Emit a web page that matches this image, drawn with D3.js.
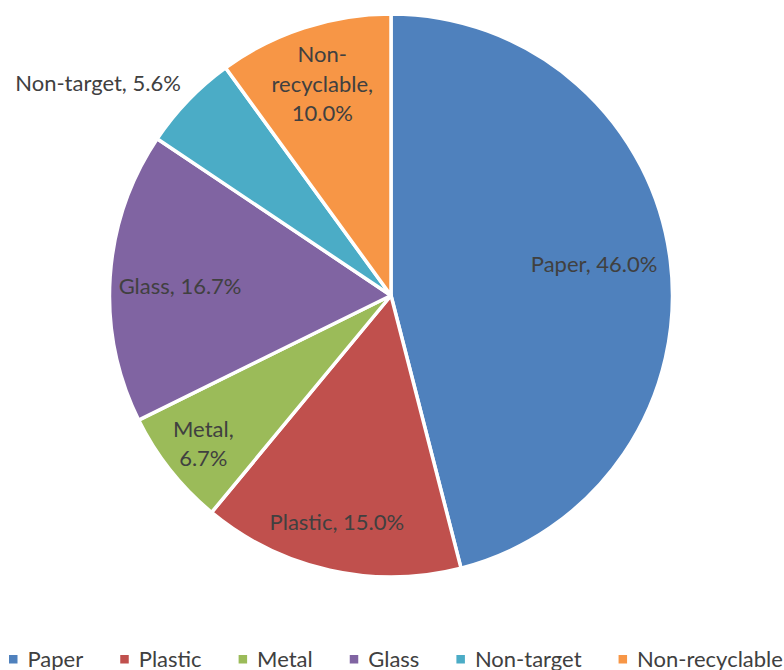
<!DOCTYPE html>
<html>
<head>
<meta charset="utf-8">
<script src="https://cdn.jsdelivr.net/npm/d3@7"></script>
<style>
  html, body { margin: 0; padding: 0; background: #ffffff; }
  svg { display: block; }
  text { font-family: Lato, "Open Sans", sans-serif; fill: #404040; }
</style>
</head>
<body>
<svg id="chart" width="784" height="670"></svg>
<script>
// Waste composition shares (%)
const categories = ["Paper", "Plastic", "Metal", "Glass", "Non-target", "Non-recyclable"];
const values = [46.0, 15.0, 6.7, 16.7, 5.6, 10.0];
const colors = ["#4F81BD", "#C0504D", "#9BBB59", "#8064A2", "#4BACC6", "#F79646"];
// Data label text lines per slice
const labelLines = [
  ["Paper, 46.0%"],
  ["Plastic, 15.0%"],
  ["Metal,", "6.7%"],
  ["Glass, 16.7%"],
  ["Non-target, 5.6%"],
  ["Non-", "recyclable,", "10.0%"]
];

// Label placement: fraction of radius, angular nudge (degrees), inside/outside
const labelLayout = [
  { r: 0.73, da: -1.5, outside: false },
  { r: 0.83, da: 0.8, outside: false },
  { r: 0.85, da: 0, outside: false },
  { r: 0.75, da: -1.4, outside: false },
  { r: 1.06, da: 1.3, outside: true },
  { r: 0.79, da: 0, outside: false }
];

const svg = d3.select("#chart");
const cx = 391, cy = 295.5, R = 281.5;
const fontSize = 22, lineH = 29.5;

const data = categories.map((c, i) => ({ name: c, value: values[i], i }));

const pie = d3.pie().value(d => d.value).sort(null);
const arc = d3.arc().innerRadius(0).outerRadius(R);
const arcs = pie(data);

const g = svg.append("g").attr("transform", `translate(${cx},${cy})`);

g.selectAll("path.slice")
  .data(arcs)
  .join("path")
  .attr("class", "slice")
  .attr("d", arc)
  .attr("fill", d => colors[d.data.i])
  .attr("stroke", "#ffffff")
  .attr("stroke-width", 3.5)
  .attr("stroke-linejoin", "round");

// Data labels
arcs.forEach(a => {
  const lay = labelLayout[a.data.i];
  const mid = (a.startAngle + a.endAngle) / 2 + lay.da * Math.PI / 180;
  const lr = R * lay.r;
  const x = Math.sin(mid) * lr;
  const y = -Math.cos(mid) * lr;
  const lines = labelLines[a.data.i];
  const t = g.append("text")
    .attr("font-size", fontSize)
    .attr("text-anchor", lay.outside ? "end" : "middle");
  const y0 = y - (lines.length - 1) * lineH / 2;
  lines.forEach((ln, k) => {
    t.append("tspan")
      .attr("x", x)
      .attr("y", y0 + k * lineH)
      .attr("dy", "0.35em")
      .text(ln);
  });
});

// Legend along the bottom
const legend = svg.append("g").attr("transform", "translate(9,667)");
let lx = 0;
data.forEach(d => {
  const item = legend.append("g").attr("transform", `translate(${lx},0)`);
  item.append("rect")
    .attr("x", 0).attr("y", -12)
    .attr("width", 8.5).attr("height", 8.5)
    .attr("fill", colors[d.i]);
  const txt = item.append("text")
    .attr("x", 18.5).attr("y", 0)
    .attr("font-size", fontSize)
    .text(d.name);
  const w = txt.node().getComputedTextLength();
  lx += 18.5 + w + 37;
});
</script>
</body>
</html>
